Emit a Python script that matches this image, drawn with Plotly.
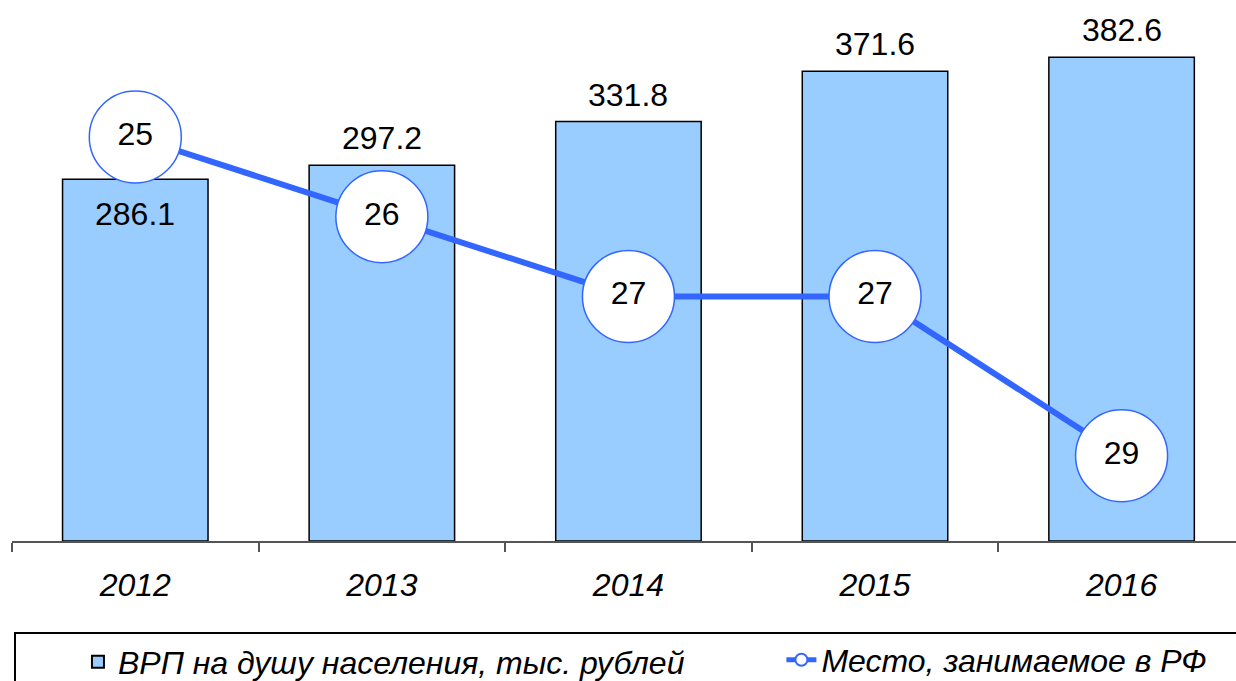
import plotly.graph_objects as go

years = ["2012", "2013", "2014", "2015", "2016"]
grp = [286.1, 297.2, 331.8, 371.6, 382.6]
rank = [25, 26, 27, 27, 29]
grp_label_pos = ["in", "out", "out", "out", "out"]

FONT = "Liberation Sans, Arial, sans-serif"
FS = 32

fig = go.Figure()
fig.add_trace(go.Bar(
    x=years, y=grp, width=0.59,
    marker=dict(color="#99CCFF", line=dict(color="#000000", width=1.5)),
    name="ВРП на душу населения, тыс. рублей",
    hoverinfo="skip", legend="legend",
))
fig.add_trace(go.Scatter(
    x=years, y=rank, yaxis="y2", mode="lines+markers+text",
    line=dict(color="#3366FF", width=6),
    marker=dict(size=92, color="white", line=dict(color="#3366FF", width=1.5)),
    text=[str(r) for r in rank], textposition="middle center",
    textfont=dict(family=FONT, size=FS, color="black"),
    name="Место, занимаемое в РФ",
    hoverinfo="skip", legend="legend2",
))

for i, (yr, v, p) in enumerate(zip(years, grp, grp_label_pos)):
    fig.add_annotation(
        x=i, y=v, xref="x", yref="y", text=f"{v:.1f}", showarrow=False,
        yshift=27 if p == "out" else -35,
        font=dict(family=FONT, size=FS, color="black"),
    )

legend_font = dict(family=FONT, size=FS, style="italic", color="black")

fig.update_layout(
    width=1236, height=681,
    margin=dict(l=12, r=0, t=0, b=140, autoexpand=False),
    paper_bgcolor="white", plot_bgcolor="white",
    font=dict(family=FONT, size=FS, color="black"),
    xaxis=dict(
        type="category", range=[-0.5, 4.464], tickson="boundaries",
        ticks="outside", ticklen=9, tickcolor="#555555", tickwidth=1.5,
        showline=True, linecolor="#555555", linewidth=1.5,
        showgrid=False, ticklabelstandoff=15,
        tickfont=dict(family=FONT, size=FS, style="italic", color="black"),
    ),
    yaxis=dict(range=[0, 427.9], visible=False, showgrid=False),
    yaxis2=dict(range=[30.069, 23.281], overlaying="y", visible=False, showgrid=False),
    showlegend=True,
    legend=dict(
        orientation="h", x=0.0016, xanchor="left", y=-0.169, yanchor="top",
        bordercolor="black", borderwidth=2, bgcolor="white",
        font=legend_font, itemsizing="constant",
        indentation=62, entrywidth=1300, entrywidthmode="pixels",
    ),
    legend2=dict(
        orientation="h", x=0.6286, xanchor="left", y=-0.169, yanchor="top",
        borderwidth=0, bgcolor="rgba(0,0,0,0)",
        font=legend_font, itemsizing="constant",
    ),
)

fig.write_html("out.html", config={"displayModeBar": False},
               post_script="document.body.style.margin='0';")
